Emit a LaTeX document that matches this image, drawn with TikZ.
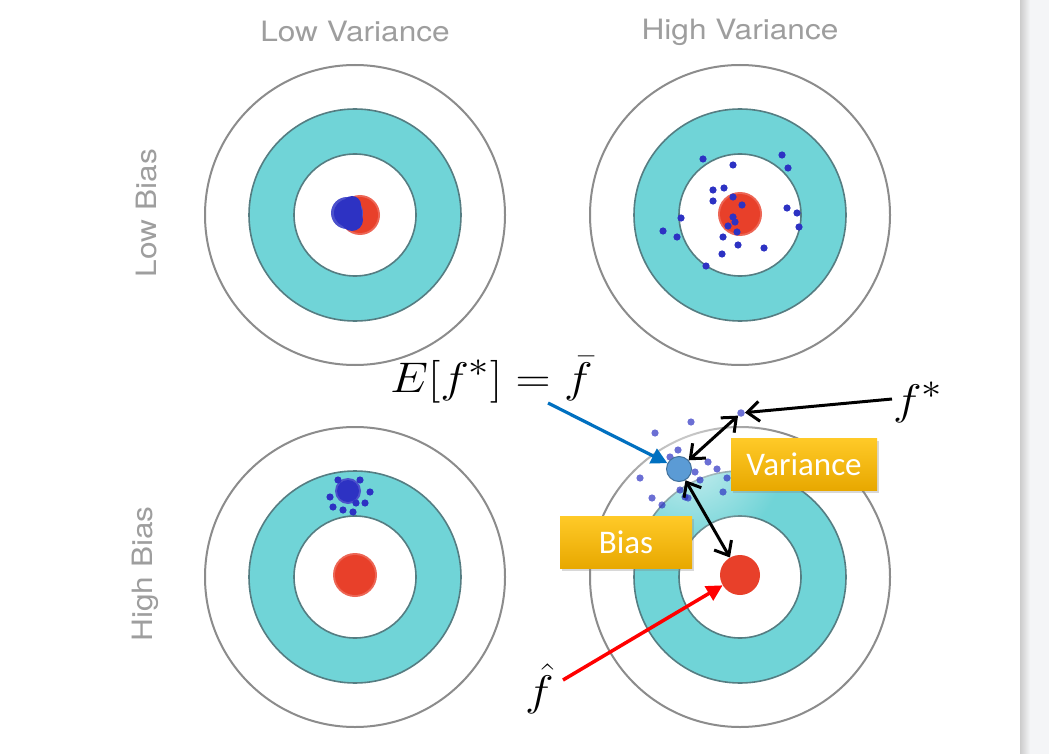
\documentclass[tikz,border=0pt]{standalone}
\usepackage{fontspec}
\newfontfamily\herosfont{TeX Gyre Heros}
\newfontfamily\carlfont{Carlito}
\usetikzlibrary{arrows.meta,shadows,fadings}
\definecolor{tealfill}{RGB}{112,212,215}
\definecolor{tealedge}{RGB}{85,125,130}
\definecolor{ringgrey}{RGB}{140,140,140}
\definecolor{dotred}{RGB}{232,64,42}
\definecolor{dotblue}{RGB}{45,50,195}
\definecolor{labgrey}{RGB}{158,158,158}
\definecolor{panel}{RGB}{244,245,247}
\definecolor{fbarfill}{RGB}{91,155,213}
\definecolor{fbaredge}{RGB}{65,113,156}
\definecolor{arrblue}{RGB}{0,112,192}
\definecolor{boxtop}{RGB}{255,202,40}
\definecolor{boxbot}{RGB}{232,168,0}
\tikzfading[name=softfade, inner color=transparent!35, outer color=transparent!100]
\newcommand{\drawtarget}[1]{%
  \draw[ringgrey, line width=2] (#1) circle[radius=150];
  \fill[tealfill, draw=tealedge, line width=1.6] (#1) circle[radius=106];
  \fill[white, draw=tealedge, line width=1.6] (#1) circle[radius=61];
}
\newcommand{\bigmath}[1]{\scalebox{1.95}[1.72]{\fontsize{24.88}{30}\selectfont$#1$}}
\newcommand{\widelab}[1]{\scalebox{1.13}[1]{#1}}
\tikzset{
  collabel/.style={font=\herosfont\fontsize{28}{32}\selectfont, text=labgrey, inner sep=0},
  yellowbox/.style={top color=boxtop, bottom color=boxbot, text=white, inner sep=0,
    font=\carlfont\fontsize{33}{38}\selectfont, drop shadow={shadow xshift=2pt, shadow yshift=-3pt, opacity=0.3}},
  mathlab/.style={inner sep=0},
  reddotstyle/.style={circle, fill=dotred, inner sep=0, minimum size=40},
  bdot/.style={fill=dotblue},
  blackarr/.style={line width=3, black, arrows={Straight Barb[length=12pt,width=20pt,line width=3pt]-Straight Barb[length=12pt,width=20pt,line width=3pt]}},
  blackone/.style={line width=3, black, -{Straight Barb[length=12pt,width=20pt,line width=3pt]}},
  bluearr/.style={line width=3.2, arrblue, -{Triangle[length=16pt,width=16pt]}},
  redarr/.style={line width=3.5, red, -{Triangle[length=16pt,width=16pt]}},
}
\begin{document}
\begin{tikzpicture}[x=1pt,y=-1pt]
\useasboundingbox (0,0) rectangle (1049,754);
\fill[white] (0,0) rectangle (1049,754);
\fill[panel] (1020,0) rectangle (1049,754);
\shade[left color=black!20, right color=panel] (1020,0) rectangle (1030,754);

% targets
\coordinate (tl) at (355,215);
\coordinate (tr) at (740,215);
\coordinate (bl) at (355,577);
\coordinate (br) at (740,577);
\drawtarget{tl}
\drawtarget{tr}
\drawtarget{bl}
\drawtarget{br}

% top-left: low bias, low variance
\fill[dotred!80!white] (360,215) circle[radius=20];
\fill[dotred] (360,215) circle[radius=18];
\fill[dotblue!85!white] (347,213) circle[radius=16];
\fill[dotblue] (348,213) circle[radius=14];
\fill[dotblue] (352,220) circle[radius=11];
\fill[dotblue] (352,205) circle[radius=9];

% top-right: low bias, high variance
\fill[dotred!80!white] (740,214) circle[radius=22];
\fill[dotred] (740,214) circle[radius=20];
\foreach \p in {(703,159),(733,165),(782,155),(788,168),(713,190),(724,188),(713,201),(733,197),
  (681,218),(663,231),(677,237),(787,208),(797,213),(799,227),(723,237),(738,245),(764,248),
  (722,254),(706,266),(735,222),(737,232),(733,217),(742,205),(728,226)}
  \fill[bdot] \p circle[radius=3.6];

% bottom-left: high bias, low variance
\fill[dotred!80!white] (355,575) circle[radius=22];
\fill[dotred] (355,575) circle[radius=20];
\fill[dotblue!85!white] (348,491) circle[radius=13];
\fill[dotblue] (348,491) circle[radius=11];
\foreach \p in {(330,497),(333,507),(370,492),(365,503),(343,510),(353,512),(360,480),(338,480),(356,503)}
  \fill[bdot] \p circle[radius=3.6];

% bottom-right: high bias, high variance
\fill[white, path fading=softfade] (690,455) circle[radius=95];
\foreach \p in {(691,422),(655,433),(678,450),(670,457),(652,498),(662,505),(695,472),(717,469),
  (680,490),(688,498),(723,492),(685,497),(700,480),(708,462),(727,478),(640,478)}
  \fill[dotblue, opacity=0.7] \p circle[radius=3.6];
\node[circle, fill=dotblue!70!white, inner sep=0, minimum size=7.5] (fstar) at (741,413) {};
\node[reddotstyle] (fhatdot) at (740,575) {};
\node[circle, fill=fbarfill, draw=fbaredge, line width=1, minimum size=25, inner sep=0] (fbar) at (679,469) {};

% labels
\node[collabel] (lv) at (355,32) {\widelab{Low Variance}};
\node[collabel] (hv) at (740,32) {\widelab{High Variance}};
\node[collabel, rotate=90] (lb) at (147,213) {\widelab{Low Bias}};
\node[collabel, rotate=90] (hb) at (145,574) {\widelab{High Bias}};

\node[mathlab, anchor=base west] (ef) at (390,392) {\bigmath{E[f^*]=\bar f}};
\node[mathlab, anchor=base west] (fs) at (893,414) {\bigmath{f^*}};
\node[mathlab, anchor=base west] (fh) at (525,705) {\bigmath{\hat f}};

\node[yellowbox, minimum width=146, minimum height=52] (var) at (804,464) {Variance};
\node[yellowbox, minimum width=132, minimum height=52] (bias) at (626,542) {Bias};

% connectors
\coordinate (efs) at (548,403);
\coordinate (fhs) at (563,680);
\coordinate (fss) at (892,399);
\draw[bluearr] (efs) -- (fbar);
\draw[blackarr] (fbar) -- (fstar);
\draw[blackarr] (fbar) -- (fhatdot);
\draw[blackone] (fss) -- (fstar);
\draw[redarr] (fhs) -- (fhatdot);
\end{tikzpicture}
\end{document}
